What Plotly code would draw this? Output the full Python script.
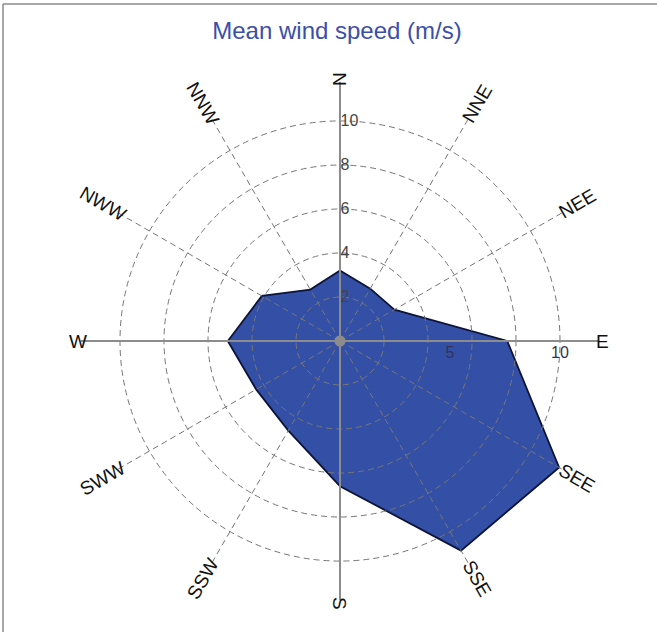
import math
import plotly.graph_objects as go

# ---- data ----
directions = ["N", "NNE", "NEE", "E", "SEE", "SSE", "S", "SSW", "SWW", "W", "NWW", "NNW"]
angles = [0, 30, 60, 90, 120, 150, 180, 210, 240, 270, 300, 330]
mean_speed = [3.2, 2.75, 2.85, 7.6, 11.5, 11.0, 6.6, 4.7, 4.4, 5.1, 4.1, 2.7]
radial_ticks = [2, 4, 6, 8, 10]
east_ticks = [5, 10]
title_text = "Mean wind speed (m/s)"

# ---- geometry ----
W, H = 657, 632
CX, CY = 340, 341          # centre in pixels (from top)
R_MAX = 11.8               # radial range
SCALE = 22.0               # pixels per m/s
RPX = R_MAX * SCALE
dom_x = [(CX - RPX) / W, (CX + RPX) / W]
dom_y = [(H - CY - RPX) / H, (H - CY + RPX) / H]

FONT = "Liberation Sans, Arial, sans-serif"
GRID = "#767676"

fig = go.Figure()

# data polygon (closed)
fig.add_trace(go.Scatterpolar(
    r=mean_speed + mean_speed[:1],
    theta=angles + angles[:1],
    mode="lines",
    fill="toself",
    fillcolor="#3450A6",
    line=dict(color="#0d1438", width=1.8),
    subplot="polar",
    hoverinfo="skip",
    showlegend=False,
))

# overlay polar holding the dashed grid (drawn above the fill)
fig.add_trace(go.Scatterpolar(
    r=[R_MAX, R_MAX], theta=[0, 180], mode="lines",
    line=dict(color="#8c8c8c", width=2), subplot="polar2",
    hoverinfo="skip", showlegend=False))
fig.add_trace(go.Scatterpolar(
    r=[R_MAX, R_MAX], theta=[90, 270], mode="lines",
    line=dict(color="#8c8c8c", width=2), subplot="polar2",
    hoverinfo="skip", showlegend=False))
fig.add_trace(go.Scatterpolar(
    r=[0], theta=[0], mode="markers",
    marker=dict(color="#8c8c8c", size=11), subplot="polar2",
    hoverinfo="skip", showlegend=False))
# third polar for the E-axis labels
fig.add_trace(go.Scatterpolar(
    r=[], theta=[], mode="markers", subplot="polar3",
    hoverinfo="skip", showlegend=False))

common_angular = dict(rotation=90, direction="clockwise", tickmode="array",
                      tickvals=angles, showticklabels=False, showline=False,
                      ticks="")

fig.update_layout(
    width=W, height=H,
    margin=dict(l=0, r=0, t=0, b=0),
    paper_bgcolor="white",
    plot_bgcolor="white",
    showlegend=False,
    title=dict(text=title_text, x=337 / W, xanchor="center",
               y=1 - 31 / H, yanchor="middle", yref="container",
               font=dict(family=FONT, size=24, color="#3B4FA8")),
    polar=dict(
        domain=dict(x=dom_x, y=dom_y),
        bgcolor="rgba(0,0,0,0)",
        radialaxis=dict(range=[0, R_MAX], showgrid=False, showline=False,
                        showticklabels=False, ticks=""),
        angularaxis=dict(common_angular, showgrid=False),
    ),
    polar2=dict(
        domain=dict(x=dom_x, y=dom_y),
        bgcolor="rgba(0,0,0,0)",
        radialaxis=dict(range=[0, R_MAX], tickmode="array", tickvals=radial_ticks,
                        angle=90, side="clockwise", showline=False, ticks="",
                        tickangle=90,
                        showgrid=True, gridcolor=GRID, griddash="6px,4px", gridwidth=1.4,
                        tickfont=dict(family=FONT, size=16, color="#444444")),
        angularaxis=dict(common_angular, showgrid=True, gridcolor=GRID,
                         griddash="6px,4px", gridwidth=1.4),
    ),
    polar3=dict(
        domain=dict(x=dom_x, y=dom_y),
        bgcolor="rgba(0,0,0,0)",
        radialaxis=dict(range=[0, R_MAX], tickmode="array", tickvals=east_ticks,
                        angle=0, side="clockwise", showline=False, ticks="",
                        tickangle=0, showgrid=False,
                        tickfont=dict(family=FONT, size=16, color="#333355")),
        angularaxis=dict(common_angular, showgrid=False),
    ),
)

# direction labels, rotated radially
LAB_FS = 19
for name, ang in zip(directions, angles):
    half_len = 0.32 * LAB_FS * len(name)
    rpx = 256 + half_len
    a = math.radians(ang)
    px = CX + rpx * math.sin(a)
    py = CY - rpx * math.cos(a)
    if 0 <= ang <= 180:
        rot = ang - 90
    else:
        rot = ang - 270
    fig.add_annotation(x=px / W, y=1 - py / H, xref="paper", yref="paper",
                       text=name, showarrow=False, textangle=rot,
                       xanchor="center", yanchor="middle",
                       font=dict(family=FONT, size=LAB_FS, color="#111111"))

# frame (left and top edges)
fig.add_shape(type="line", xref="paper", yref="paper",
              x0=3 / W, x1=3 / W, y0=0, y1=1 - 4 / H,
              line=dict(color="#8a8a8a", width=1.5))
fig.add_shape(type="line", xref="paper", yref="paper",
              x0=3 / W, x1=1, y0=1 - 4 / H, y1=1 - 4 / H,
              line=dict(color="#8a8a8a", width=1.5))

fig.write_html("out.html",
               config={"displayModeBar": False},
               post_script="document.body.style.margin='0';document.body.style.overflow='hidden';")
